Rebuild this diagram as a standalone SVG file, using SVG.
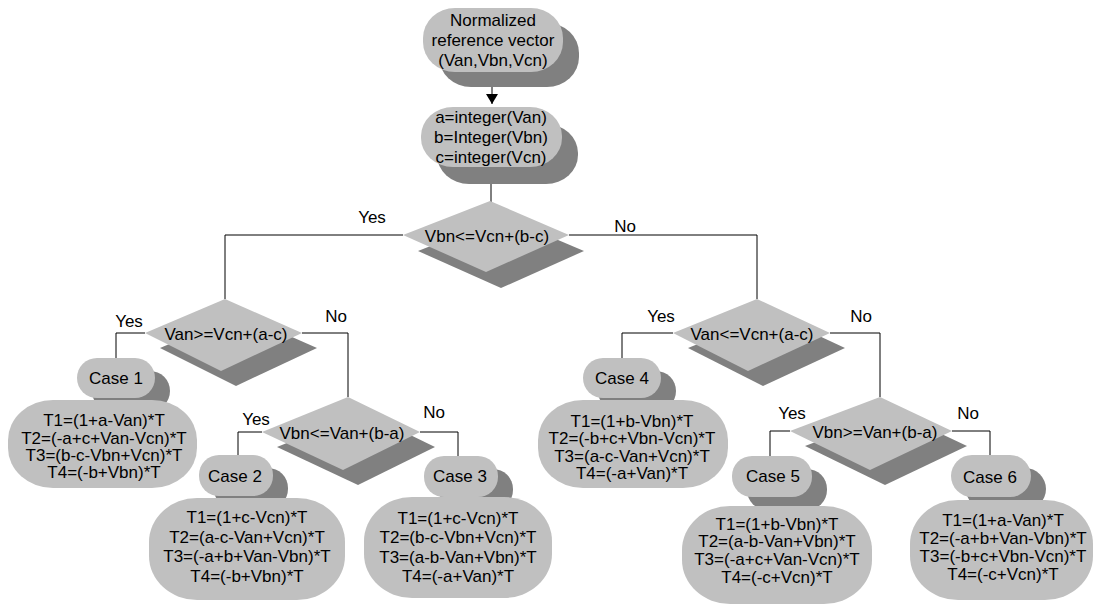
<svg xmlns="http://www.w3.org/2000/svg" width="1095" height="606" viewBox="0 0 1095 606">
<style>
.n{fill:#c0c0c0}
.s{fill:#808080}
text{font-family:"Liberation Sans",Arial,sans-serif;font-size:17px;fill:#000;text-anchor:middle}
.c{fill:none;stroke:#000;stroke-width:1}
</style>
<defs>
<marker id="ah" markerUnits="userSpaceOnUse" markerWidth="12" markerHeight="12" refX="10" refY="6" orient="auto">
<path d="M0,0 L10,6 L0,12 Z" fill="#000"/>
</marker>
</defs>
<rect width="1095" height="606" fill="#fff"/>
<g id="connectors">
<path class="c" d="M492 72 V104" marker-end="url(#ah)"/>
<path class="c" d="M491 167 V202"/>
<path class="c" d="M403 235 H225 V299"/>
<path class="c" d="M569 235 H757 V299"/>
<path class="c" d="M145 333 H116 V358"/>
<path class="c" d="M302 333 H348 V397"/>
<path class="c" d="M262 432 H238 V455"/>
<path class="c" d="M420 432 H458 V456"/>
<path class="c" d="M673 333 H622 V358"/>
<path class="c" d="M830 333 H880 V397"/>
<path class="c" d="M790 431 H770 V456"/>
<path class="c" d="M952 431 H990 V455"/>
</g>
<g id="start">
<rect class="s" x="439" y="23" width="140" height="64" rx="32" ry="30"/>
<rect class="n" x="423" y="8" width="140" height="64" rx="32" ry="30"/>
<text x="493" y="26">Normalized</text>
<text x="493" y="46">reference vector</text>
<text x="493" y="66">(Van,Vbn,Vcn)</text>
</g>
<g id="integers">
<rect class="s" x="437" y="124" width="141" height="60" rx="32" ry="29"/>
<rect class="n" x="421" y="107" width="141" height="60" rx="32" ry="29"/>
<text x="491" y="123">a=integer(Van)</text>
<text x="491" y="143">b=Integer(Vbn)</text>
<text x="491" y="163">c=integer(Vcn)</text>
</g>
<g id="d1">
<polygon class="s" points="418,251 504,217 584,251 501,288"/>
<polygon class="n" points="403,235 490,201 569,235 486,272"/>
<text x="487" y="242">Vbn&lt;=Vcn+(b-c)</text>
<text x="372" y="223">Yes</text>
<text x="625" y="232">No</text>
</g>
<g id="d2">
<polygon class="s" points="160,348 240,314 317,348 236,386"/>
<polygon class="n" points="145,333 225,299 302,333 221,371"/>
<text x="226" y="340">Van&gt;=Vcn+(a-c)</text>
<text x="129" y="327">Yes</text>
<text x="336" y="322">No</text>
</g>
<g id="d3">
<polygon class="s" points="277,447 363,412 435,447 358,485"/>
<polygon class="n" points="262,432 348,397 420,432 343,470"/>
<text x="342" y="439">Vbn&lt;=Van+(b-a)</text>
<text x="256" y="425">Yes</text>
<text x="434" y="418">No</text>
</g>
<g id="d4">
<polygon class="s" points="688,348 772,314 845,348 763,386"/>
<polygon class="n" points="673,333 757,299 830,333 748,371"/>
<text x="752" y="340">Van&lt;=Vcn+(a-c)</text>
<text x="661" y="322">Yes</text>
<text x="861" y="322">No</text>
</g>
<g id="d5">
<polygon class="s" points="805,446 895,412 967,446 885,485"/>
<polygon class="n" points="790,431 880,397 952,431 870,470"/>
<text x="875" y="438">Vbn&gt;=Van+(b-a)</text>
<text x="792" y="419">Yes</text>
<text x="968" y="419">No</text>
</g>
<g id="case1">
<rect class="s" x="92" y="371" width="78" height="40" rx="20"/>
<rect class="n" x="77" y="358" width="78" height="40" rx="20"/>
<text x="116" y="384">Case 1</text>
<rect class="n" x="8" y="400" width="189" height="88" rx="45" ry="40"/>
<text x="104" y="426">T1=(1+a-Van)*T</text>
<text x="104" y="444">T2=(-a+c+Van-Vcn)*T</text>
<text x="104" y="461">T3=(b-c-Vbn+Vcn)*T</text>
<text x="104" y="478">T4=(-b+Vbn)*T</text>
</g>
<g id="case2">
<rect class="s" x="214" y="468" width="74" height="41" rx="20"/>
<rect class="n" x="199" y="455" width="74" height="41" rx="20"/>
<text x="235" y="482">Case 2</text>
<rect class="n" x="149" y="498" width="196" height="102" rx="48" ry="44"/>
<text x="247" y="523">T1=(1+c-Vcn)*T</text>
<text x="247" y="543">T2=(a-c-Van+Vcn)*T</text>
<text x="247" y="562">T3=(-a+b+Van-Vbn)*T</text>
<text x="247" y="582">T4=(-b+Vbn)*T</text>
</g>
<g id="case3">
<rect class="s" x="439" y="469" width="74" height="41" rx="20"/>
<rect class="n" x="424" y="456" width="74" height="41" rx="20"/>
<text x="460" y="482">Case 3</text>
<rect class="n" x="364" y="497" width="188" height="101" rx="48" ry="44"/>
<text x="458" y="524">T1=(1+c-Vcn)*T</text>
<text x="458" y="543">T2=(b-c-Vbn+Vcn)*T</text>
<text x="458" y="563">T3=(a-b-Van+Vbn)*T</text>
<text x="458" y="582">T4=(-a+Van)*T</text>
</g>
<g id="case4">
<rect class="s" x="598" y="371" width="78" height="40" rx="20"/>
<rect class="n" x="583" y="358" width="78" height="40" rx="20"/>
<text x="622" y="384">Case 4</text>
<rect class="n" x="538" y="400" width="190" height="88" rx="45" ry="40"/>
<text x="632" y="427">T1=(1+b-Vbn)*T</text>
<text x="632" y="444">T2=(-b+c+Vbn-Vcn)*T</text>
<text x="632" y="462">T3=(a-c-Van+Vcn)*T</text>
<text x="632" y="479">T4=(-a+Van)*T</text>
</g>
<g id="case5">
<rect class="s" x="747" y="469" width="80" height="41" rx="20"/>
<rect class="n" x="732" y="456" width="80" height="41" rx="20"/>
<text x="773" y="482">Case 5</text>
<rect class="n" x="682" y="506" width="190" height="98" rx="48" ry="44"/>
<text x="777" y="530">T1=(1+b-Vbn)*T</text>
<text x="777" y="547">T2=(a-b-Van+Vbn)*T</text>
<text x="777" y="565">T3=(-a+c+Van-Vcn)*T</text>
<text x="777" y="583">T4=(-c+Vcn)*T</text>
</g>
<g id="case6">
<rect class="s" x="966" y="468" width="80" height="42" rx="21"/>
<rect class="n" x="951" y="455" width="80" height="42" rx="21"/>
<text x="990" y="483">Case 6</text>
<rect class="n" x="910" y="500" width="183" height="100" rx="48" ry="44"/>
<text x="1003" y="526">T1=(1+a-Van)*T</text>
<text x="1003" y="544">T2=(-a+b+Van-Vbn)*T</text>
<text x="1003" y="562">T3=(-b+c+Vbn-Vcn)*T</text>
<text x="1003" y="580">T4=(-c+Vcn)*T</text>
</g>
</svg>
